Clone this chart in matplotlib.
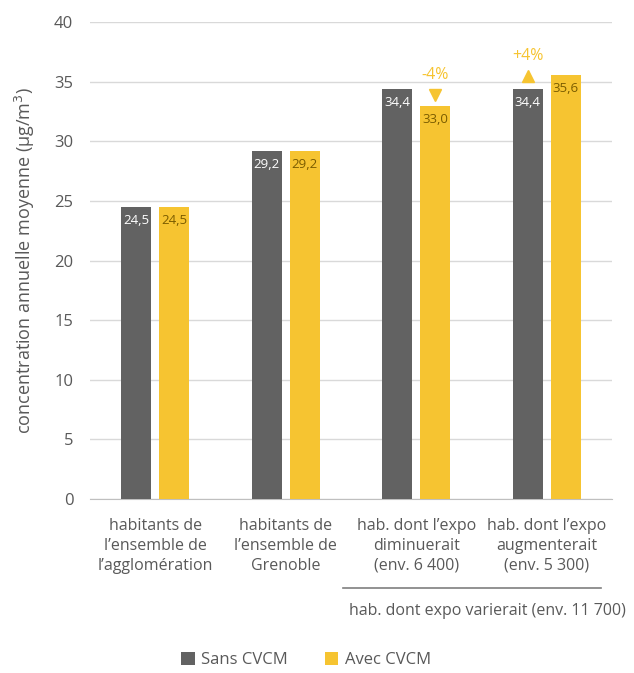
import matplotlib.pyplot as plt
import numpy as np

# data
categories = ["habitants de\nl\u2019ensemble de\nl\u2019agglomération",
              "habitants de\nl\u2019ensemble de\nGrenoble",
              "hab. dont l\u2019expo\ndiminuerait\n(env. 6 400)",
              "hab. dont l\u2019expo\naugmenterait\n(env. 5 300)"]
sans_cvcm = [24.5, 29.2, 34.4, 34.4]
avec_cvcm = [24.5, 29.2, 33.0, 35.6]
variation = ["", "", "-4%", "+4%"]

gray = "#626262"
yellow = "#F6C431"
txt = "#595959"

plt.rcParams['font.family'] = ['Open Sans', 'DejaVu Sans']

fig = plt.figure(figsize=(6.34, 6.73), dpi=100)
ax = fig.add_axes([0.142, 0.2585, 0.823, 0.7085])

x = np.arange(len(categories))
w = 0.23
off = 0.145
b1 = ax.bar(x - off, sans_cvcm, w, color=gray, label="Sans CVCM", zorder=3)
b2 = ax.bar(x + off, avec_cvcm, w, color=yellow, label="Avec CVCM", zorder=3)

# value labels inside bars
for xi, v in zip(x, sans_cvcm):
    ax.text(xi - off, v - 0.6, f"{v:.1f}".replace(".", ","), ha="center", va="top",
            color="white", fontsize=9.5, zorder=4)
for xi, v in zip(x, avec_cvcm):
    ax.text(xi + off, v - 0.6, f"{v:.1f}".replace(".", ","), ha="center", va="top",
            color="#7a5c00", fontsize=9.5, zorder=4)

# variation markers
for xi, v, lab in zip(x, avec_cvcm, variation):
    if not lab:
        continue
    if lab.startswith("-"):
        ax.plot(xi + off, v + 0.9, marker="v", color=yellow, markersize=9, zorder=4, clip_on=False)
        ax.text(xi + off, v + 1.9, lab, ha="center", va="bottom", color=yellow, fontsize=11.5)
    else:
        ax.plot(xi - off, v - 0.15, marker="^", color=yellow, markersize=9, zorder=4, clip_on=False)
        ax.text(xi - off, v + 0.9, lab, ha="center", va="bottom", color=yellow, fontsize=11.5)

ax.set_xlim(-0.5, 3.5)
ax.set_ylim(0, 40)
ax.set_yticks(range(0, 41, 5))
ax.set_xticks(x)
ax.set_xticklabels(categories, fontsize=11.5, color=txt, linespacing=1.3)
ax.tick_params(axis="y", length=0, labelsize=12, labelcolor=txt, pad=12)
ax.tick_params(axis="x", length=0, pad=14)
ax.grid(axis="y", color="#d9d9d9", linewidth=1, zorder=0)
for s in ["top", "right", "left"]:
    ax.spines[s].set_visible(False)
ax.spines["bottom"].set_color("#bfbfbf")
ax.set_ylabel("concentration annuelle moyenne (µg/m$^3$)", fontsize=13, color=txt, labelpad=12)

# bracket under groups 3-4
fig.add_artist(plt.Line2D([343 / 634, 601 / 634], [1 - 588 / 673] * 2, color="#7f7f7f", linewidth=1.2))
fig.text(487 / 634, 1 - 611 / 673, "hab. dont expo varierait (env. 11 700)", ha="center", va="center",
         fontsize=11.5, color=txt)

fig.legend(handles=[b1, b2], loc="center", bbox_to_anchor=(306 / 634, 1 - 660 / 673), ncol=2,
           frameon=False, fontsize=12, handlelength=0.8, handleheight=0.8, columnspacing=2.2,
           handletextpad=0.4, labelcolor=txt)

fig.savefig("out.png", dpi=100)
